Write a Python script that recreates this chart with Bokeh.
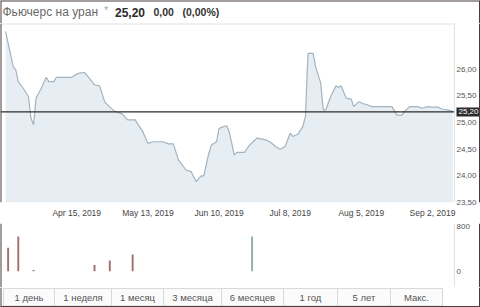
import pandas as pd
from bokeh.plotting import figure
from bokeh.models import Range1d, FixedTicker, Span, Label, LinearAxis, DatetimeAxis, ColumnDataSource
from bokeh.layouts import column
from bokeh.embed import file_html
from bokeh.resources import INLINE
from bokeh.core.properties import value

# ---------------- data ----------------
title_name = "Фьючерс на уран"
title_star = "*"
last_price_label = "25,20"
change_label = "0,00"
change_pct_label = "(0,00%)"
ref_price = 25.20

price_dates = [
    "2019-03-18", "2019-03-21", "2019-03-22", "2019-03-23", "2019-03-25", "2019-03-27",
    "2019-03-28", "2019-03-29", "2019-03-30", "2019-04-01", "2019-04-03", "2019-04-04",
    "2019-04-06", "2019-04-07", "2019-04-13", "2019-04-15", "2019-04-16", "2019-04-18",
    "2019-04-19", "2019-04-22", "2019-04-24", "2019-04-26", "2019-04-28", "2019-04-30",
    "2019-05-03", "2019-05-05", "2019-05-08", "2019-05-11", "2019-05-13", "2019-05-15",
    "2019-05-19", "2019-05-21", "2019-05-23", "2019-05-25", "2019-05-28", "2019-05-30",
    "2019-06-01", "2019-06-03", "2019-06-04", "2019-06-06", "2019-06-07", "2019-06-09",
    "2019-06-10", "2019-06-11", "2019-06-13", "2019-06-14", "2019-06-16", "2019-06-17",
    "2019-06-20", "2019-06-22", "2019-06-25", "2019-06-28", "2019-06-30", "2019-07-02",
    "2019-07-04", "2019-07-06", "2019-07-08", "2019-07-09", "2019-07-11", "2019-07-13",
    "2019-07-14", "2019-07-15", "2019-07-17", "2019-07-18", "2019-07-20", "2019-07-21",
    "2019-07-22", "2019-07-24", "2019-07-26", "2019-07-27", "2019-07-28", "2019-07-30",
    "2019-08-01", "2019-08-02", "2019-08-04", "2019-08-06", "2019-08-07", "2019-08-09",
    "2019-08-17", "2019-08-19", "2019-08-21", "2019-08-22", "2019-08-24", "2019-08-27",
    "2019-08-29", "2019-08-31", "2019-09-02", "2019-09-04", "2019-09-06", "2019-09-08",
    "2019-09-10",
]
price_values = [
    26.71, 26.05, 25.99, 25.77, 25.64, 25.49,
    25.08, 24.96, 25.46, 25.64, 25.85, 25.77,
    25.77, 25.85, 25.85, 25.91, 25.93, 25.94,
    25.89, 25.71, 25.69, 25.39, 25.29, 25.21,
    25.16, 25.05, 25.05, 24.83, 24.61, 24.64,
    24.64, 24.60, 24.60, 24.30, 24.11, 24.08,
    23.89, 24.00, 24.00, 24.43, 24.58, 24.64,
    24.89, 24.91, 24.94, 24.83, 24.39, 24.44,
    24.44, 24.58, 24.71, 24.68, 24.64, 24.56,
    24.50, 24.55, 24.80, 24.74, 24.78, 24.93,
    25.12, 26.30, 26.30, 26.05, 25.74, 25.24,
    25.24, 25.50, 25.69, 25.66, 25.69, 25.46,
    25.44, 25.30, 25.39, 25.35, 25.34, 25.30,
    25.30, 25.14, 25.14, 25.21, 25.30, 25.30,
    25.27, 25.30, 25.29, 25.29, 25.25, 25.24,
    25.21,
]

volume_dates = ["2019-03-19", "2019-03-23", "2019-03-29", "2019-04-22", "2019-04-28", "2019-05-07", "2019-06-23"]
volume_values = [420, 620, 20, 110, 190, 300, 620]
volume_up = [False, False, False, False, False, False, True]

price_ticks = [23.5, 24.0, 24.5, 25.0, 25.5, 26.0]
price_tick_labels = ["23,50", "24,00", "24,50", "25,00", "25,50", "26,00"]
date_ticks = ["2019-04-15", "2019-05-13", "2019-06-10", "2019-07-08", "2019-08-05", "2019-09-02"]
date_tick_labels = ["Apr 15, 2019", "May 13, 2019", "Jun 10, 2019", "Jul 8, 2019", "Aug 5, 2019", "Sep 2, 2019"]
volume_ticks = [0, 800]
volume_tick_labels = ["0", "800"]
period_buttons = ["1 день", "1 неделя", "1 месяц", "3 месяца", "6 месяцев", "1 год", "5 лет", "Макс."]

# ---------------- helpers ----------------
def ms(d):
    return pd.Timestamp(d).value / 1e6

FONT = "Liberation Sans"
EDGE = "#4a3c3c"      # dark frame of the page
W = 480
PLOT_W = 454          # width of the drawing area left of the price scale
x_start = ms("2019-03-16")
x_end = ms("2019-09-10 15:30")
# the frame spans the whole width; the price scale sits inside its right strip
xr = Range1d(start=x_start, end=x_start + (x_end - x_start) * W / PLOT_W)
y_top = 26.86

def right_axis(ticks, labels, size):
    ax = LinearAxis(ticker=FixedTicker(ticks=ticks))
    ax.major_label_overrides = {k: lab for k, lab in zip(ticks, labels)}
    ax.axis_line_color = None
    ax.major_tick_line_color = None
    ax.minor_tick_line_color = None
    ax.major_tick_out = 0
    ax.major_tick_in = 0
    ax.major_label_standoff = -(W - PLOT_W) + 2
    ax.major_label_text_font = FONT
    ax.major_label_text_font_size = size
    ax.major_label_text_color = "#555555"
    return ax

def side_edges(fig, lo, hi):
    fig.add_layout(Span(location=lo, dimension="height", line_color=EDGE, line_width=2))
    fig.add_layout(Span(location=hi, dimension="height", line_color=EDGE, line_width=3))

# ---------------- title strip ----------------
t = figure(width=W, height=23, x_range=Range1d(0, W), y_range=Range1d(23, 0),
           x_axis_type=None, y_axis_type=None, output_backend="svg", toolbar_location=None,
           min_border=0, outline_line_color=None)
t.grid.visible = False
t.text(x=[2], y=[11.5], text=[title_name], text_font=value(FONT), text_font_size="12px",
       text_color="#6a6a6a", text_baseline="middle")
t.text(x=[103.5], y=[9.5], text=[title_star], text_font=value(FONT), text_font_size="11px",
       text_color="#aaaaaa", text_baseline="middle")
t.text(x=[114.5], y=[11.5], text=[last_price_label], text_font=value(FONT), text_font_size="12px",
       text_font_style="bold", text_color="#2a2a2a", text_baseline="middle")
t.text(x=[153], y=[11.5], text=[change_label], text_font=value(FONT), text_font_size="10.5px",
       text_font_style="bold", text_color="#333333", text_baseline="middle")
t.text(x=[182], y=[11.5], text=[change_pct_label], text_font=value(FONT), text_font_size="10.5px",
       text_font_style="bold", text_color="#333333", text_baseline="middle")
t.add_layout(Span(location=0, dimension="width", line_color=EDGE, line_width=2))
side_edges(t, 0, W)

# ---------------- price chart ----------------
p = figure(width=W, height=197, x_range=xr, y_range=Range1d(23.5, y_top),
           x_axis_type=None, y_axis_type=None, output_backend="svg", toolbar_location=None,
           min_border_left=0, min_border_right=0, min_border_top=0, min_border_bottom=17,
           outline_line_color=None)
p.grid.visible = False
src = ColumnDataSource(dict(x=[ms(d) for d in price_dates], y=price_values,
                            base=[price_ticks[0]] * len(price_values)))
p.varea(x="x", y1="base", y2="y", source=src, fill_color="#e7eef3")
p.line(x="x", y="y", source=src, line_color="#a3b3bf", line_width=1.2)
# frame edges of the drawing area
p.segment(x0=[x_start], y0=[y_top], x1=[x_end], y1=[y_top], line_color="#e2e2e2", line_width=2)
p.add_layout(Span(location=x_end, dimension="height", line_color="#e2e2e2", line_width=1))
p.segment(x0=[x_start], y0=[ref_price], x1=[x_end], y1=[ref_price], line_color="#2b2b2b", line_width=1.2)

xax = DatetimeAxis(ticker=FixedTicker(ticks=[ms(d) for d in date_ticks]))
xax.major_label_overrides = {ms(d): lab for d, lab in zip(date_ticks, date_tick_labels)}
xax.axis_line_color = None
xax.major_tick_line_color = None
xax.minor_tick_line_color = None
xax.major_tick_out = 0
xax.major_label_standoff = 5
xax.major_label_text_font = FONT
xax.major_label_text_font_size = "8.5px"
xax.major_label_text_color = "#444444"
p.add_layout(xax, "below")
p.add_layout(right_axis(price_ticks, price_tick_labels, "8px"), "right")

p.add_layout(Label(x=x_end, y=ref_price, text=last_price_label, x_offset=2,
                   text_baseline="middle", text_align="left",
                   text_font=FONT, text_font_size="8px", text_color="white",
                   background_fill_color="#2b2b2b", padding=2))
side_edges(p, xr.start, xr.end)

# ---------------- volume chart ----------------
v = figure(width=W, height=67, x_range=xr, y_range=Range1d(-292, 854),
           x_axis_type=None, y_axis_type=None, output_backend="svg", toolbar_location=None,
           min_border_left=0, min_border_right=0, min_border_top=3, min_border_bottom=0,
           outline_line_color=None)
v.grid.visible = False
vsrc = ColumnDataSource(dict(x=[ms(d) for d in volume_dates], top=volume_values,
                             color=["#8fb1a5" if u else "#a06f6f" for u in volume_up]))
v.vbar(x="x", top="top", bottom=0, width=0.75 * 86400000, source=vsrc,
       fill_color="color", line_color=None)
v.add_layout(Span(location=x_end, dimension="height", line_color="#e2e2e2", line_width=1))
v.add_layout(right_axis(volume_ticks, volume_tick_labels, "8px"), "right")
side_edges(v, xr.start, xr.end)

# ---------------- period buttons ----------------
b = figure(width=W, height=20, x_range=Range1d(0, W), y_range=Range1d(307, 287),
           x_axis_type=None, y_axis_type=None, output_backend="svg", toolbar_location=None,
           min_border=0, outline_line_color=None)
b.grid.visible = False
edges = [3, 54, 111, 163, 221, 283, 337, 390, 442]
b.quad(left=edges[:-1], right=edges[1:], top=[288] * 8, bottom=[305.5] * 8,
       fill_color="#fbfbfb", line_color="#d9d9d9", line_width=1)
b.text(x=[(edges[i] + edges[i + 1]) / 2 for i in range(8)], y=[297] * 8, text=period_buttons,
       text_font=value(FONT), text_font_size="9.5px", text_color="#555555",
       text_align="center", text_baseline="middle")
b.add_layout(Span(location=306.5, dimension="width", line_color=EDGE, line_width=2))
side_edges(b, 0, W)

layout = column(t, p, v, b, spacing=0)
open("out.html", "w").write(file_html(layout, INLINE))
